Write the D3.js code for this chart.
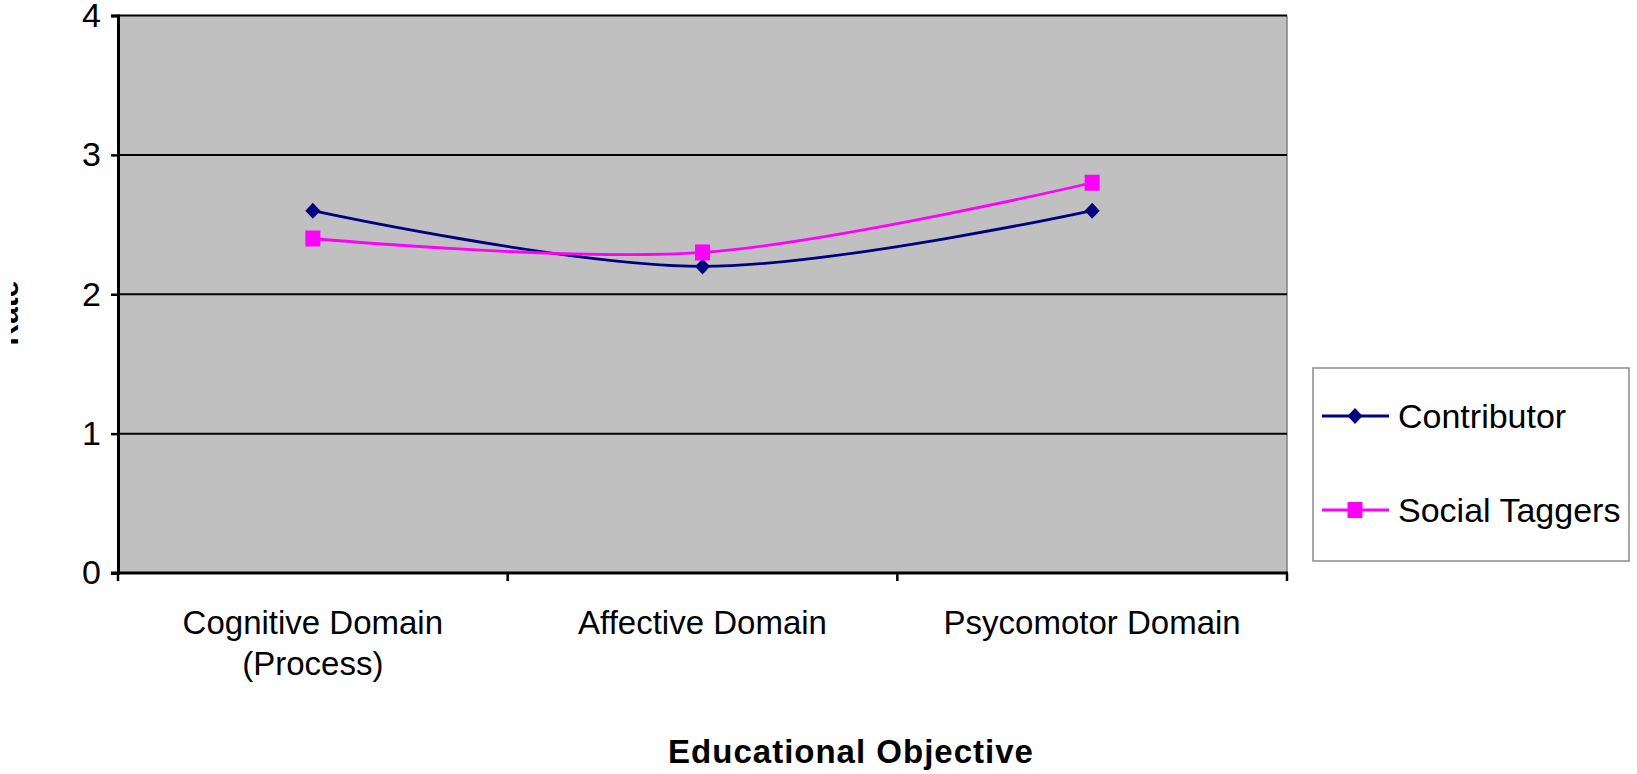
<!DOCTYPE html>
<html>
<head>
<meta charset="utf-8">
<script src="https://cdn.jsdelivr.net/npm/d3@7/dist/d3.min.js"></script>
<style>
  html, body { margin: 0; padding: 0; background: #fff; }
  svg { display: block; font-family: "Liberation Sans", Arial, sans-serif; }
</style>
</head>
<body>
<svg id="chart" width="1637" height="774"></svg>
<script>
// Category names (tick labels, may wrap onto two lines)
const categories = ["Cognitive Domain (Process)", "Affective Domain", "Psycomotor Domain"];
const categoryLines = [["Cognitive Domain", "(Process)"], ["Affective Domain"], ["Psycomotor Domain"]];
// Series values
const contributor = [2.6, 2.2, 2.6];
const socialTaggers = [2.4, 2.3, 2.8];
const yTicks = [0, 1, 2, 3, 4];
const seriesNames = ["Contributor", "Social Taggers"];

const svg = d3.select("#chart");
const plot = { left: 118, right: 1287, top: 15.5, bottom: 573 };

const x = d3.scaleBand().domain(categories).range([plot.left, plot.right]).paddingInner(0).paddingOuter(0);
const y = d3.scaleLinear().domain([0, 4]).range([plot.bottom, plot.top]);
const cx = c => x(c) + x.bandwidth() / 2;

// plot area background
svg.append("rect")
  .attr("x", plot.left).attr("y", plot.top)
  .attr("width", plot.right - plot.left).attr("height", plot.bottom - plot.top)
  .attr("fill", "#c0c0c0");
svg.append("line")
  .attr("x1", plot.right).attr("x2", plot.right)
  .attr("y1", plot.top).attr("y2", plot.bottom)
  .attr("stroke", "#808080").attr("stroke-width", 1.5);

// horizontal gridlines
svg.append("g").selectAll("line")
  .data(yTicks.filter(d => d > 0))
  .join("line")
  .attr("x1", plot.left).attr("x2", plot.right)
  .attr("y1", d => y(d)).attr("y2", d => y(d))
  .attr("stroke", "#000").attr("stroke-width", 2);

// y axis
const yAxis = svg.append("g")
  .attr("transform", `translate(${plot.left},0)`)
  .call(d3.axisLeft(y).tickValues(yTicks).tickSize(7).tickPadding(10).tickFormat(d3.format("d")));
yAxis.select(".domain").attr("stroke", "#000").attr("stroke-width", 3);
yAxis.selectAll(".tick line").attr("stroke", "#000").attr("stroke-width", 2.5);
yAxis.selectAll(".tick text")
  .attr("font-size", 34).attr("fill", "#000")
  .attr("font-family", "'Liberation Sans', Arial, sans-serif");

// x axis: ticks at category boundaries
const bounds = categories.map(c => x(c)).concat([plot.right]);
svg.append("line")
  .attr("x1", plot.left - 7).attr("x2", plot.right + 1)
  .attr("y1", plot.bottom).attr("y2", plot.bottom)
  .attr("stroke", "#000").attr("stroke-width", 3);
svg.append("g").selectAll("line")
  .data(bounds)
  .join("line")
  .attr("x1", d => d).attr("x2", d => d)
  .attr("y1", plot.bottom).attr("y2", plot.bottom + 8)
  .attr("stroke", "#000").attr("stroke-width", 2.5);

// category labels
const catG = svg.append("g");
categories.forEach((c, i) => {
  const t = catG.append("text")
    .attr("x", cx(c)).attr("y", 634)
    .attr("text-anchor", "middle")
    .attr("font-size", 33).attr("fill", "#000");
  categoryLines[i].forEach((ln, j) => {
    t.append("tspan").attr("x", cx(c)).attr("dy", j === 0 ? 0 : 41).text(ln);
  });
});

// x axis title
svg.append("text")
  .attr("x", 851).attr("y", 763)
  .attr("text-anchor", "middle")
  .attr("font-size", 33).attr("font-weight", "bold")
  .attr("letter-spacing", 1)
  .attr("fill", "#000")
  .text("Educational Objective");

// y axis title, mostly cut off at the left edge
svg.append("defs").append("clipPath").attr("id", "ytitle-clip")
  .append("rect").attr("x", 11).attr("y", 0).attr("width", 30).attr("height", 774);
svg.append("g").attr("clip-path", "url(#ytitle-clip)")
  .append("text")
  .attr("transform", "translate(18,313) rotate(-90)")
  .attr("text-anchor", "middle")
  .attr("font-size", 30).attr("font-weight", "bold").attr("fill", "#000")
  .text("Rate");

// series lines (smoothed)
const line = d3.line()
  .x((d, i) => cx(categories[i]))
  .y(d => y(d))
  .curve(d3.curveCardinal.tension(0));

const series = [
  { name: seriesNames[0], values: contributor, color: "#000080", marker: "diamond" },
  { name: seriesNames[1], values: socialTaggers, color: "#ff00ff", marker: "square" }
];

function drawMarker(g, kind, px, py, color) {
  if (kind === "diamond") {
    g.append("path")
      .attr("d", `M${px},${py - 8}L${px + 7.5},${py}L${px},${py + 8}L${px - 7.5},${py}Z`)
      .attr("fill", color);
  } else {
    g.append("rect")
      .attr("x", px - 7.5).attr("y", py - 8)
      .attr("width", 15).attr("height", 16)
      .attr("fill", color);
  }
}

series.forEach(s => {
  svg.append("path")
    .datum(s.values)
    .attr("d", line)
    .attr("fill", "none")
    .attr("stroke", s.color)
    .attr("stroke-width", 2.8);
});
series.forEach(s => {
  const g = svg.append("g");
  s.values.forEach((v, i) => drawMarker(g, s.marker, cx(categories[i]), y(v), s.color));
});

// legend
const legend = svg.append("g");
legend.append("rect")
  .attr("x", 1313).attr("y", 368).attr("width", 316).attr("height", 193)
  .attr("fill", "#fff").attr("stroke", "#8a8a8a").attr("stroke-width", 1.5);
series.forEach((s, i) => {
  const ly = 416 + i * 94;
  legend.append("line")
    .attr("x1", 1322).attr("x2", 1389).attr("y1", ly).attr("y2", ly)
    .attr("stroke", s.color).attr("stroke-width", 2.8);
  drawMarker(legend, s.marker, 1355, ly, s.color);
  legend.append("text")
    .attr("x", 1398).attr("y", ly + 12)
    .attr("font-size", 34).attr("fill", "#000")
    .text(s.name);
});
</script>
</body>
</html>
